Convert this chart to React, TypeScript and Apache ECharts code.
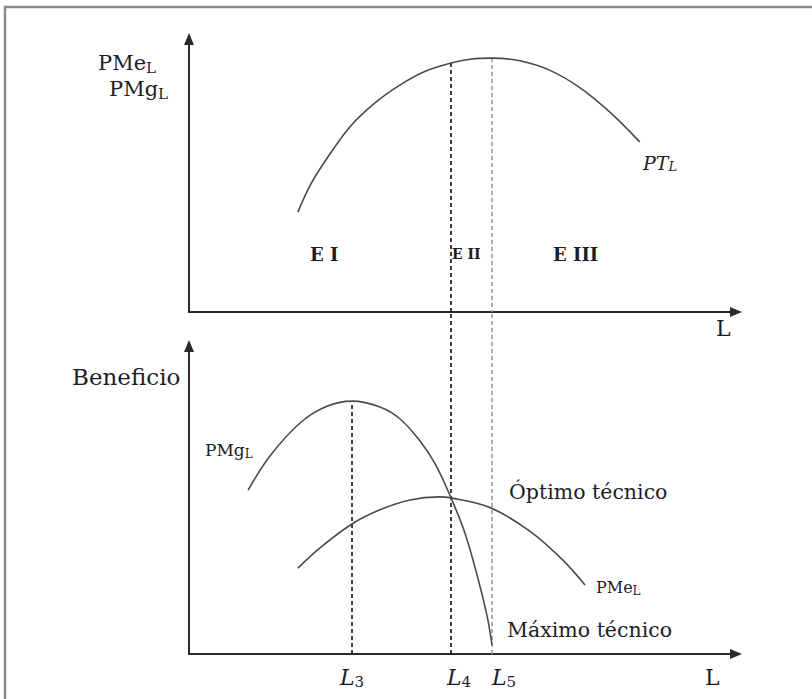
import React, { useEffect, useRef } from "react";
import * as echarts from "echarts";

// Top panel: total product curve PT_L (x: L units, y: product units)
const PT_X = [19.9, 22.1, 24.9, 29.4, 34.0, 38.6, 43.1, 47.9, 51.4, 55.4, 60.5, 66.0, 71.5, 77.0, 82.4];
const PT_Y = [36.6, 46.2, 55.3, 67.8, 76.6, 83.2, 88.1, 91.2, 92.6, 93.0, 92.0, 88.5, 82.1, 73.1, 62.3];

// Bottom panel: marginal product PMg_L and average product PMe_L
const PMG_X = [10.8, 14.8, 20.3, 24.9, 29.8, 34.9, 38.6, 42.2, 45.0, 47.9, 50.5, 52.8, 54.5, 55.4];
const PMG_Y = [53.2, 64.3, 75.0, 80.2, 82.1, 80.2, 76.3, 69.2, 61.7, 50.7, 39.0, 24.7, 12.3, 2.9];
const PME_X = [19.9, 23.9, 29.8, 34.9, 40.4, 45.7, 47.9, 55.0, 62.3, 68.4, 72.4];
const PME_Y = [27.9, 34.4, 42.2, 46.8, 50.0, 51.0, 50.7, 47.6, 39.9, 30.4, 22.4];

// Key labour levels and their tick labels
const L_VALUES = [29.8, 47.9, 55.4];
const L_SUBS = ["3", "4", "5"];
const L3_TOP = 82.1; // PMg maximum
const L4_TOP = 91.2; // PT at L4
const L5_TOP = 93.0; // PT maximum
const GAP_REACH = 111; // bottom-panel units reaching the top panel's axis

const zip = (xs: number[], ys: number[]) => xs.map((x, i) => [x, ys[i]]);

const SERIF = "DejaVu Serif";
const INK = "#1d1d28";

export default function App() {
  const ref = useRef<HTMLDivElement>(null);
  useEffect(() => {
    if (!ref.current) return;
    const chart = echarts.init(ref.current, undefined, { renderer: "svg" });
    const axisLine = {
      show: true,
      symbol: ["none", "triangle"],
      symbolSize: [10, 12],
      lineStyle: { color: "#2a2a2a", width: 2 },
    };
    const hiddenBits = {
      axisTick: { show: false },
      splitLine: { show: false },
    };
    const curve = (name: string, data: number[][], idx: number) => ({
      name,
      type: "line",
      xAxisIndex: idx,
      yAxisIndex: idx,
      data,
      smooth: 0.35,
      symbol: "none",
      lineStyle: { color: "#4a4a4a", width: 1.6 },
      z: 3,
    });
    const dashed = (data: number[][], idx: number, color: string) => ({
      type: "line",
      xAxisIndex: idx,
      yAxisIndex: idx,
      data,
      symbol: "none",
      clip: false,
      lineStyle: { color, width: 1.6, type: [4, 3] },
      z: 2,
    });
    const richSub = (size: number, subSize: number, italic = false) => ({
      m: { fontFamily: SERIF, fontSize: size, color: INK, fontStyle: italic ? "italic" : "normal" },
      s: { fontFamily: SERIF, fontSize: subSize, color: INK, fontStyle: italic ? "italic" : "normal", padding: [subSize * 0.6, 0, 0, 0] },
    });
    const text = (x: number, y: number, t: string, font: number, extra: any = {}) => ({
      type: "text",
      x,
      y,
      style: {
        text: t,
        fontFamily: SERIF,
        fontSize: font,
        fill: INK,
        verticalAlign: "middle",
        align: "left",
        ...extra,
      },
      z: 10,
    });

    chart.setOption({
      animation: false,
      backgroundColor: "#ffffff",
      grid: [
        { left: 189, top: 39, width: 547, height: 273, outerBoundsMode: "none" },
        { left: 189, top: 346, width: 547, height: 308, outerBoundsMode: "none" },
      ],
      xAxis: [
        { type: "value", gridIndex: 0, min: 0, max: 100, axisLine, axisLabel: { show: false }, ...hiddenBits },
        {
          type: "value",
          gridIndex: 1,
          min: 0,
          max: 100,
          axisLine,
          ...hiddenBits,
          axisLabel: {
            show: true,
            customValues: L_VALUES,
            margin: 11,
            formatter: (v: number) => {
              const i = L_VALUES.findIndex((x) => Math.abs(x - v) < 0.01);
              if (i < 0) return "";
              return `{p${i}|L}{s${i}|${L_SUBS[i]}}`;
            },
            rich: {
              p0: { fontFamily: SERIF, fontStyle: "italic", fontSize: 22, color: INK },
              s0: { fontFamily: SERIF, fontSize: 15, color: INK, padding: [9, 0, 0, 0] },
              p1: { fontFamily: SERIF, fontStyle: "italic", fontSize: 22, color: INK, padding: [0, 0, 0, 16] },
              s1: { fontFamily: SERIF, fontSize: 15, color: INK, padding: [9, 0, 0, 0] },
              p2: { fontFamily: SERIF, fontStyle: "italic", fontSize: 22, color: INK, padding: [0, 0, 0, 24] },
              s2: { fontFamily: SERIF, fontSize: 15, color: INK, padding: [9, 0, 0, 0] },
            },
          },
        },
      ],
      yAxis: [
        { type: "value", gridIndex: 0, min: 0, max: 100, axisLine, axisLabel: { show: false }, ...hiddenBits },
        { type: "value", gridIndex: 1, min: 0, max: 100, axisLine, axisLabel: { show: false }, ...hiddenBits },
      ],
      series: [
        curve("PT", zip(PT_X, PT_Y), 0),
        dashed([[L_VALUES[1], L4_TOP], [L_VALUES[1], 0]], 0, "#111111"),
        dashed([[L_VALUES[2], L5_TOP], [L_VALUES[2], 0]], 0, "#9a9a9a"),
        curve("PMg", zip(PMG_X, PMG_Y), 1),
        curve("PMe", zip(PME_X, PME_Y), 1),
        dashed([[L_VALUES[0], 0], [L_VALUES[0], L3_TOP]], 1, "#111111"),
        dashed([[L_VALUES[1], 0], [L_VALUES[1], GAP_REACH]], 1, "#111111"),
        dashed([[L_VALUES[2], 0], [L_VALUES[2], GAP_REACH]], 1, "#9a9a9a"),
      ],
      graphic: [
        {
          type: "rect",
          shape: { x: 5, y: 7, width: 840, height: 740 },
          style: { fill: "none", stroke: "#8a8a8a", lineWidth: 2.5 },
          z: 0,
        },
        text(98, 63, "{m|PMe}{s|L}", 21, { rich: richSub(21, 15) }),
        text(109, 89, "{m|PMg}{s|L}", 21, { rich: richSub(21, 15) }),
        text(643, 163, "{m|PT}{s|L}", 19, { rich: richSub(19, 13, true) }),
        text(310, 254, "E I", 18, { fontWeight: "bold" }),
        text(452, 254, "E II", 14, { fontWeight: "bold" }),
        text(553, 254, "E III", 18, { fontWeight: "bold" }),
        text(716, 328, "L", 22),
        text(72, 377, "Beneficio", 23),
        text(205, 450, "{m|PMg}{s|L}", 17, { rich: richSub(17, 12) }),
        text(596, 587, "{m|PMe}{s|L}", 16, { rich: richSub(16, 12) }),
        text(509, 492, "Óptimo técnico", 20.5),
        text(507, 630, "Máximo técnico", 20.5),
        text(705, 677, "L", 22),
      ],
    });
    return () => chart.dispose();
  }, []);
  return (
    <div
      ref={ref}
      style={{ position: "absolute", left: 0, top: 0, width: 812, height: 699 }}
    />
  );
}
